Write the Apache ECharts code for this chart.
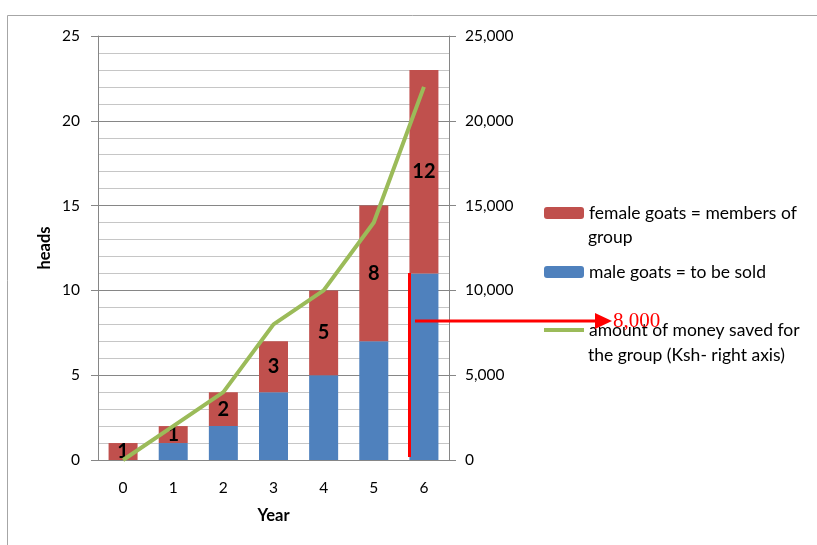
<!DOCTYPE html>
<html>
<head>
<meta charset="utf-8">
<script src="https://cdn.jsdelivr.net/npm/echarts@6/dist/echarts.min.js"></script>
<style>html,body{margin:0;padding:0;background:#fff;}#c{width:817px;height:545px;}</style>
</head>
<body>
<div id="c"></div>
<script>
const years = ['0', '1', '2', '3', '4', '5', '6'];
const maleGoats = [0, 1, 2, 4, 5, 7, 11];
const femaleGoats = [1, 1, 2, 3, 5, 8, 12];
const moneySaved = [0, 2000, 4000, 8000, 10000, 14000, 22000];
const seriesNames = ['female goats = members of', 'male goats = to be sold', 'amount of money saved for'];
const secondLines = ['group', 'the group (Ksh- right axis)'];
const annotationText = '8,000';

const FONT = 'Lato';
const chart = echarts.init(document.getElementById('c'), null, {renderer: 'canvas'});
const axisGray = '#868686';
const legendText = {fontFamily: FONT, fontSize: 17.5, color: '#000', lineHeight: 20};

chart.setOption({
  animation: false,
  textStyle: {fontFamily: FONT},
  grid: {left: 98, right: 368, top: 36, bottom: 85},
  legend: [
    {data: [seriesNames[0]], left: 544, top: 203, padding: 0, itemWidth: 40, itemHeight: 12, textStyle: legendText, selectedMode: false},
    {data: [seriesNames[1]], left: 544, top: 262, padding: 0, itemWidth: 40, itemHeight: 12, textStyle: legendText, selectedMode: false},
    {data: [{name: seriesNames[2], icon: 'rect'}], left: 544, top: 320, padding: 0, itemWidth: 40, itemHeight: 4, textStyle: legendText, selectedMode: false}
  ],
  xAxis: {
    type: 'category', data: years,
    name: 'Year', nameLocation: 'middle', nameGap: 47,
    nameTextStyle: {fontFamily: FONT, fontSize: 16.5, fontWeight: 'bold', color: '#000'},
    axisLine: {lineStyle: {color: axisGray, width: 1}},
    axisTick: {show: false},
    axisLabel: {fontFamily: FONT, fontSize: 15.5, color: '#000', margin: 20}
  },
  yAxis: [
    {
      type: 'value', min: 0, max: 25, interval: 5,
      name: 'heads', nameLocation: 'middle', nameGap: 45,
      nameTextStyle: {fontFamily: FONT, fontSize: 16.5, fontWeight: 'bold', color: '#000'},
      axisLine: {show: true, lineStyle: {color: axisGray}},
      axisTick: {show: true, length: 7, lineStyle: {color: axisGray}},
      axisLabel: {fontFamily: FONT, fontSize: 15.5, color: '#000', margin: 18},
      splitLine: {show: true, lineStyle: {color: axisGray, width: 1}},
      minorTick: {show: false, splitNumber: 5},
      minorSplitLine: {show: true, lineStyle: {color: '#c6c6c6', width: 1}}
    },
    {
      type: 'value', min: 0, max: 25000, interval: 5000,
      axisLine: {show: true, lineStyle: {color: axisGray}},
      axisTick: {show: true, length: 7, lineStyle: {color: axisGray}},
      axisLabel: {fontFamily: FONT, fontSize: 15.5, color: '#000', margin: 16},
      splitLine: {show: false}
    }
  ],
  series: [
    {
      name: seriesNames[1], type: 'bar', stack: 'goats', data: maleGoats,
      barWidth: 29, itemStyle: {color: '#4F81BD'}, z: 2
    },
    {
      name: seriesNames[0], type: 'bar', stack: 'goats', data: femaleGoats,
      barWidth: 29, itemStyle: {color: '#C0504D'}, z: 2,
      label: {show: true, position: 'inside', fontFamily: FONT, fontSize: 20, fontWeight: 'bold', color: '#000'}
    },
    {
      name: seriesNames[2], type: 'line', yAxisIndex: 1, data: moneySaved,
      symbol: 'none', lineStyle: {color: '#9BBB59', width: 4}, itemStyle: {color: '#9BBB59'}, z: 3
    }
  ],
  graphic: [
    {type: 'rect', shape: {x: 7.5, y: 15.5, width: 900, height: 600}, style: {fill: 'none', stroke: '#a6a6a6', lineWidth: 1}, silent: true, z: -10},
    {type: 'text', left: 588, top: 227, style: {text: secondLines[0], fontFamily: FONT, fontSize: 17.5, lineHeight: 20, fill: '#000'}},
    {type: 'text', left: 588, top: 345, style: {text: secondLines[1], fontFamily: FONT, fontSize: 17.5, lineHeight: 20, fill: '#000'}},
    {type: 'line', shape: {x1: 409.5, y1: 273, x2: 409.5, y2: 457}, style: {stroke: '#ff0000', lineWidth: 3}, z: 10},
    {type: 'line', shape: {x1: 415, y1: 321, x2: 597, y2: 321}, style: {stroke: '#ff0000', lineWidth: 3}, z: 10},
    {type: 'polygon', shape: {points: [[595, 313], [612, 321], [595, 329]]}, style: {fill: '#ff0000'}, z: 10},
    {type: 'text', x: 613, y: 321, style: {text: annotationText, fontFamily: 'Liberation Serif', fontSize: 21, fill: '#ff0000', verticalAlign: 'middle'}, z: 10}
  ]
});
</script>
</body>
</html>
